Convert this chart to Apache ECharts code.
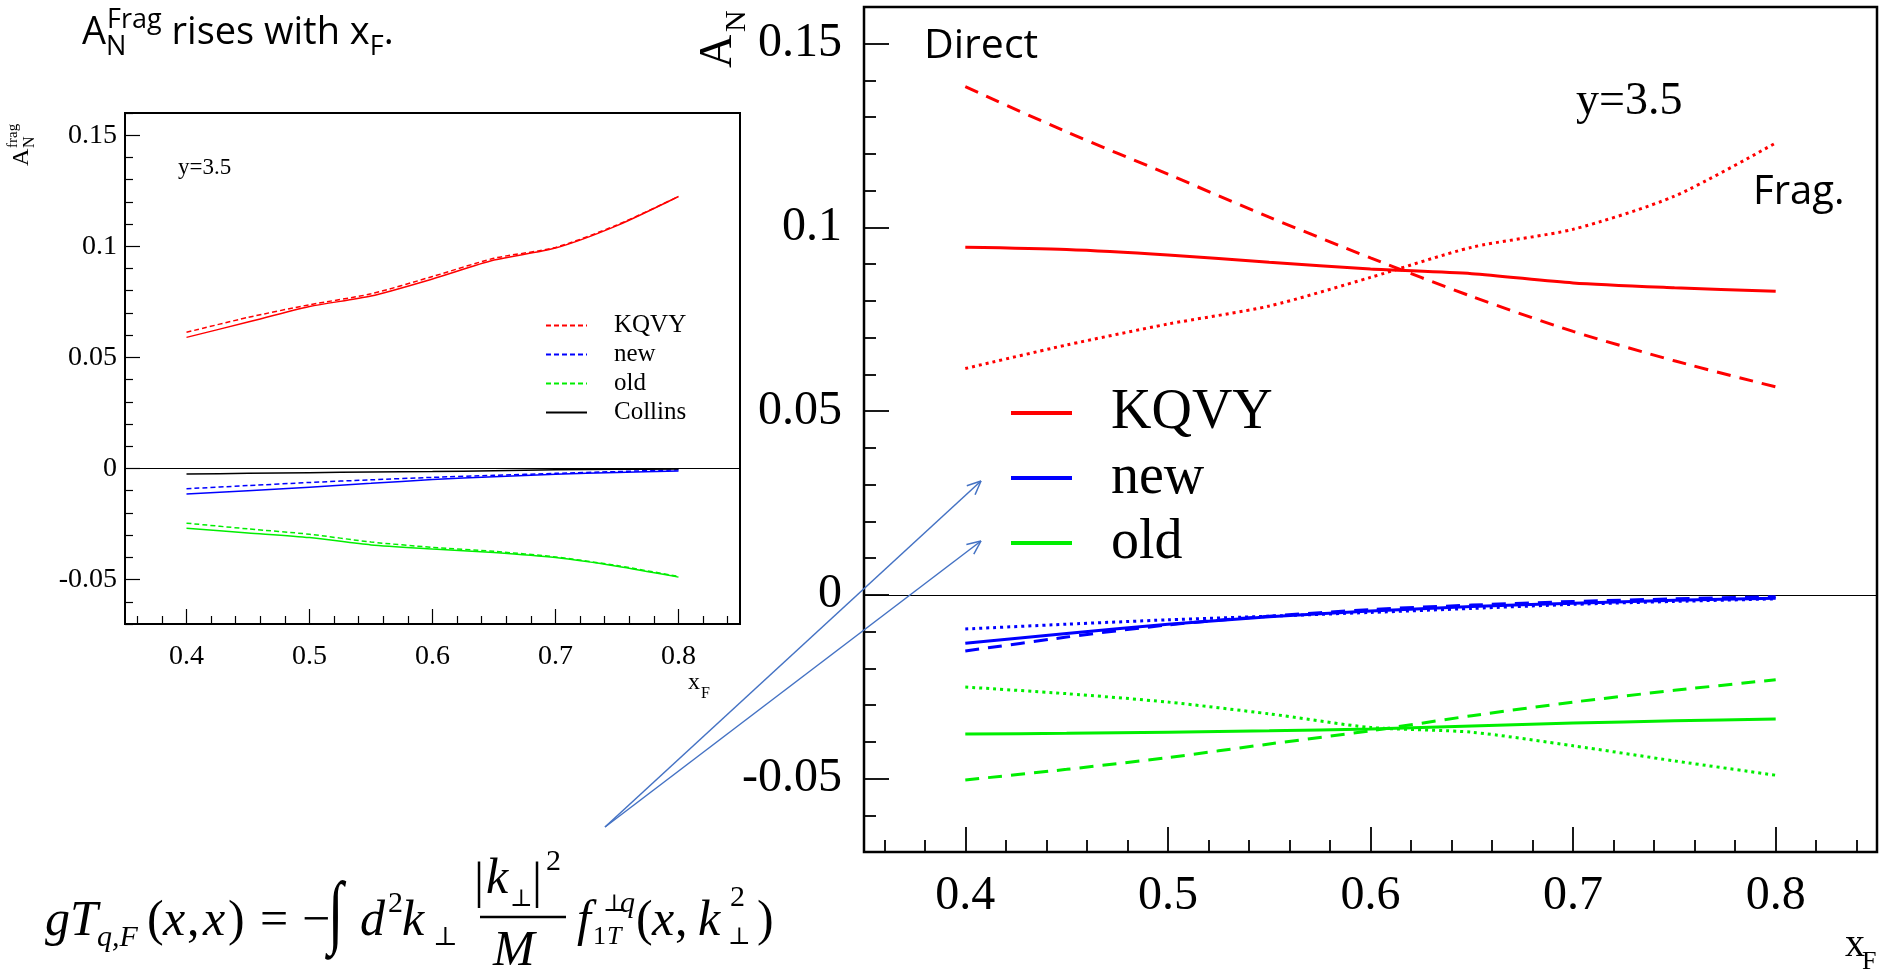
<!DOCTYPE html>
<html><head><meta charset="utf-8">
<script src="https://cdn.jsdelivr.net/npm/echarts@6/dist/echarts.min.js"></script>
<style>html,body{margin:0;padding:0;background:#fff}#c{width:1887px;height:977px}</style>
</head><body><div id="c"></div><script>
// ---------- data ----------
const xF = [0.40, 0.45, 0.50, 0.55, 0.60, 0.65, 0.70, 0.75, 0.80];
const xTicks = [0.4, 0.5, 0.6, 0.7, 0.8];
const xTickLabels = ['0.4', '0.5', '0.6', '0.7', '0.8'];
const yTicks = [-0.05, 0, 0.05, 0.1, 0.15];
const yTickLabels = ['-0.05', '0', '0.05', '0.1', '0.15'];
const xRange = [0.35, 0.85];
const yRange = [-0.07, 0.16];

// left panel (fragmentation contribution)
const fragKQVY_L = [0.0613, 0.0680, 0.0737, 0.0786, 0.0864, 0.0946, 0.0995, 0.1096, 0.1224];
const totKQVY_L  = [0.0590, 0.0659, 0.0729, 0.0776, 0.0853, 0.0938, 0.0992, 0.1093, 0.1224];
const fragNew_L  = [-0.0091, -0.0077, -0.0063, -0.0051, -0.0040, -0.0031, -0.0022, -0.0014, -0.0006];
const totNew_L   = [-0.0115, -0.0100, -0.0084, -0.0067, -0.0050, -0.0037, -0.0026, -0.0018, -0.0011];
const fragOld_L  = [-0.0246, -0.0272, -0.0296, -0.0331, -0.0355, -0.0373, -0.0398, -0.0437, -0.0486];
const totOld_L   = [-0.0269, -0.0290, -0.0311, -0.0344, -0.0362, -0.0378, -0.0401, -0.0440, -0.0489];
const collins_L  = [-0.0025, -0.0022, -0.0019, -0.0016, -0.0014, -0.0010, -0.0006, -0.0004, -0.0002];

// right panel (total solid, direct dashed, frag dotted)
const totKQVY_R  = [0.0946, 0.0940, 0.0925, 0.0905, 0.0887, 0.0874, 0.0849, 0.0836, 0.0826];
const dirKQVY_R  = [0.1383, 0.1260, 0.1145, 0.1028, 0.0917, 0.0812, 0.0717, 0.0637, 0.0566];
const fragKQVY_R = [0.0616, 0.0680, 0.0737, 0.0786, 0.0864, 0.0946, 0.0995, 0.1085, 0.1230];
const totNew_R   = [-0.0132, -0.0105, -0.0080, -0.0060, -0.0044, -0.0032, -0.0023, -0.0015, -0.0009];
const dirNew_R   = [-0.0153, -0.0115, -0.0082, -0.0058, -0.0040, -0.0028, -0.0018, -0.0011, -0.0005];
const fragNew_R  = [-0.0093, -0.0080, -0.0068, -0.0058, -0.0048, -0.0037, -0.0026, -0.0018, -0.0011];
const totOld_R   = [-0.0379, -0.0377, -0.0374, -0.0370, -0.0365, -0.0357, -0.0349, -0.0343, -0.0338];
const dirOld_R   = [-0.0504, -0.0475, -0.0443, -0.0406, -0.0370, -0.0329, -0.0292, -0.0260, -0.0231];
const fragOld_R  = [-0.0251, -0.0269, -0.0292, -0.0324, -0.0361, -0.0374, -0.0411, -0.0452, -0.0491];

const legendLabels = { 'KQVY frag': 'KQVY', 'new frag': 'new', 'old frag': 'old', 'Collins': 'Collins',
                       'KQVY': 'KQVY', 'new': 'new', 'old': 'old' };

// ---------- helpers ----------
const RED = '#ff0000', BLUE = '#0000ff', GREEN = '#00ee00', ARROW = '#4472c4';
const SERIF = 'Liberation Serif, DejaVu Serif, serif';
const SANS = 'Open Sans, Liberation Sans, sans-serif';

function minorOf(lo, hi, step, majors) {
  const out = [];
  const n = Math.round((hi - lo) / step);
  for (let i = 0; i <= n; i++) {
    const v = Math.round((lo + i * step) * 1000) / 1000;
    if (!majors.some(m => Math.abs(m - v) < 1e-9)) out.push(v);
  }
  return out;
}
const xMinor = minorOf(0.36, 0.84, 0.02, xTicks);
const yMinor = minorOf(-0.07, 0.16, 0.01, yTicks);

function lab(ticks, labels) {
  return v => { const i = ticks.findIndex(t => Math.abs(t - v) < 1e-9); return i >= 0 ? labels[i] : ''; };
}

function xAxesFor(grid, lenMaj, lenMin, fs, margin, lw) {
  return [
    { type: 'value', gridIndex: grid, min: xRange[0], max: xRange[1], position: 'bottom',
      axisLine: { show: false, onZero: false }, splitLine: { show: false },
      axisTick: { show: true, inside: true, length: lenMaj, customValues: xTicks, lineStyle: { color: '#000', width: lw } },
      axisLabel: { show: true, customValues: xTicks, formatter: lab(xTicks, xTickLabels), margin: margin,
                   fontFamily: SERIF, fontSize: fs, color: '#000' } },
    { type: 'value', gridIndex: grid, min: xRange[0], max: xRange[1], position: 'bottom',
      axisLine: { show: false, onZero: false }, splitLine: { show: false }, axisLabel: { show: false },
      axisTick: { show: true, inside: true, length: lenMin, customValues: xMinor, lineStyle: { color: '#000', width: lw } } }
  ];
}
function yAxesFor(grid, lenMaj, lenMin, fs, margin, lw) {
  return [
    { type: 'value', gridIndex: grid, min: yRange[0], max: yRange[1], position: 'left',
      axisLine: { show: false, onZero: false }, splitLine: { show: false },
      axisTick: { show: true, inside: true, length: lenMaj, customValues: yTicks, lineStyle: { color: '#000', width: lw } },
      axisLabel: { show: true, customValues: yTicks, formatter: lab(yTicks, yTickLabels), margin: margin,
                   fontFamily: SERIF, fontSize: fs, color: '#000' } },
    { type: 'value', gridIndex: grid, min: yRange[0], max: yRange[1], position: 'left',
      axisLine: { show: false, onZero: false }, splitLine: { show: false }, axisLabel: { show: false },
      axisTick: { show: true, inside: true, length: lenMin, customValues: yMinor, lineStyle: { color: '#000', width: lw } } }
  ];
}

function line(name, arr, xi, yi, color, width, type, extra) {
  const s = { name, type: 'line', xAxisIndex: xi, yAxisIndex: yi, data: xF.map((x, i) => [x, arr[i]]),
    symbol: 'none', showSymbol: false, smooth: 0.25, silent: true, z: 5,
    lineStyle: { color, width, type }, itemStyle: { color } };
  return Object.assign(s, extra || {});
}
const zeroLine = { silent: true, symbol: ['none', 'none'], label: { show: false },
  lineStyle: { color: '#000', width: 1.2, type: 'solid' }, data: [{ yAxis: 0 }], animation: false };

const dashL = [5, 3], dashR = [14, 9], dotR = [3, 4];

const series = [
  // left panel
  line('KQVY total L', totKQVY_L, 0, 0, RED, 1.5, 'solid', { markLine: zeroLine }),
  line('KQVY frag', fragKQVY_L, 0, 0, RED, 1.5, dashL),
  line('new total L', totNew_L, 0, 0, BLUE, 1.5, 'solid'),
  line('new frag', fragNew_L, 0, 0, BLUE, 1.5, dashL),
  line('old total L', totOld_L, 0, 0, GREEN, 1.5, 'solid'),
  line('old frag', fragOld_L, 0, 0, GREEN, 1.5, dashL),
  line('Collins', collins_L, 0, 0, '#000', 1.5, 'solid'),
  // right panel
  line('KQVY', totKQVY_R, 2, 2, RED, 3, 'solid', { markLine: zeroLine }),
  line('KQVY direct', dirKQVY_R, 2, 2, RED, 3, dashR),
  line('KQVY fragR', fragKQVY_R, 2, 2, RED, 3, dotR),
  line('new', totNew_R, 2, 2, BLUE, 3, 'solid'),
  line('new direct', dirNew_R, 2, 2, BLUE, 3, dashR),
  line('new fragR', fragNew_R, 2, 2, BLUE, 3, dotR),
  line('old', totOld_R, 2, 2, GREEN, 3, 'solid'),
  line('old direct', dirOld_R, 2, 2, GREEN, 3, dashR),
  line('old fragR', fragOld_R, 2, 2, GREEN, 3, dotR)
];

// ---------- text / annotation graphics ----------
const mctx = document.createElement('canvas').getContext('2d');
function mw(text, size, ff, it) { mctx.font = (it ? 'italic ' : '') + size + 'px ' + ff; return mctx.measureText(text).width; }

function T(text, x, y, size, o) {
  o = o || {};
  const el = { type: 'text', x, y, silent: true, z: 50,
    style: { text, fontSize: size, fontFamily: o.ff || SERIF, fontStyle: o.it ? 'italic' : 'normal',
             fill: o.c || '#000', align: o.al || 'left', verticalAlign: 'middle' } };
  if (o.sy) { el.scaleY = o.sy; }
  return el;
}
function arrow(x1, y1, x2, y2) {
  const a = Math.atan2(y2 - y1, x2 - x1), L = 15, w = 0.42;
  const st = { stroke: ARROW, lineWidth: 1.5 };
  return [
    { type: 'line', silent: true, z: 60, shape: { x1, y1, x2, y2 }, style: st },
    { type: 'line', silent: true, z: 60, shape: { x1: x2, y1: y2, x2: x2 - L * Math.cos(a - w), y2: y2 - L * Math.sin(a - w) }, style: st },
    { type: 'line', silent: true, z: 60, shape: { x1: x2, y1: y2, x2: x2 - L * Math.cos(a + w), y2: y2 - L * Math.sin(a + w) }, style: st }
  ];
}

// slide title laid out with measured widths
const titleEls = (function () {
  const S = 38, s = 27, y = 33;
  let x = 82; const out = [];
  out.push(T('A', x, y, S, { ff: SANS })); x += mw('A', S, 'Open Sans');
  out.push(T('N', x, y + 14, s, { ff: SANS }));
  out.push(T('Frag', x + 1, y - 13, s, { ff: SANS }));
  x += Math.max(mw('N', s, 'Open Sans'), mw('Frag', s, 'Open Sans') + 1) + mw(' ', S, 'Open Sans');
  out.push(T('rises with x', x, y, S, { ff: SANS })); x += mw('rises with x', S, 'Open Sans');
  out.push(T('F', x, y + 14, s, { ff: SANS })); x += mw('F', s, 'Open Sans');
  out.push(T('.', x, y, S, { ff: SANS }));
  return out;
})();

const F = 50, FS = 30;   // formula main / script sizes
const formulaEls = [
  T('gT', 45, 922, F, { it: true }),
  T('q,F', 97, 938, FS, { it: true }),
  T('(', 147, 922, F), T('x', 163, 922, F, { it: true }), T(',', 187, 922, F),
  T('x', 203, 922, F, { it: true }), T(')', 228, 922, F),
  T('=', 260, 922, F), T('\u2212', 302, 922, F),
  T('\u222B', 328, 917, 56, { sy: 1.45 }),
  T('d', 360, 922, F, { it: true }), T('2', 388, 904, FS),
  T('k', 402, 922, F, { it: true }), T('\u22A5', 433, 938, 26),
  T('|', 474, 884, F), T('k', 486, 880, F, { it: true }), T('\u22A5', 510, 900, 24),
  T('|', 532, 884, F), T('2', 546, 862, FS),
  { type: 'line', silent: true, z: 50, shape: { x1: 480, y1: 917, x2: 566, y2: 917 }, style: { stroke: '#000', lineWidth: 2.5 } },
  T('M', 493, 952, F, { it: true }),
  T('f', 577, 922, F, { it: true }),
  T('\u22A5', 603, 905, 24), T('q', 620, 904, FS, { it: true }),
  T('1', 593, 937, 26), T('T', 607, 937, 26, { it: true }),
  T('(', 636, 922, F), T('x', 652, 922, F, { it: true }), T(',', 675, 922, F),
  T('k', 698, 922, F, { it: true }), T('2', 730, 898, FS), T('\u22A5', 728, 938, 24),
  T(')', 757, 922, F)
];

const graphics = [].concat(titleEls, [
  // left panel annotations
  T('y=3.5', 178, 168, 23),
  { type: 'group', x: 22, y: 166, rotation: Math.PI / 2, z: 50, children: [
      T('A', 0, 0, 24), T('frag', 18, -9, 15), T('N', 18, 8, 16) ] },
  T('x', 688, 683, 24), T('F', 701, 694, 16),
  // right panel annotations
  T('Direct', 924, 46, 41, { ff: SANS }),
  T('Frag.', 1753, 193, 40, { ff: SANS }),
  T('y=3.5', 1576, 102, 46),
  { type: 'group', x: 719, y: 68, rotation: Math.PI / 2, z: 50, children: [
      T('A', 0, 0, 46), T('N', 36, 18, 30) ] },
  T('x', 1845, 945, 40), T('F', 1862, 962, 26)
], formulaEls, arrow(605, 827, 981, 481), arrow(605, 827, 981, 541));

const chart = echarts.init(document.getElementById('c'), null, { renderer: 'canvas' });
chart.setOption({
  animation: false,
  backgroundColor: '#fff',
  grid: [
    { left: 125, top: 113, width: 615, height: 511, show: true, borderColor: '#000', borderWidth: 2, backgroundColor: 'transparent', containLabel: false },
    { left: 864, top: 7, width: 1013, height: 845, show: true, borderColor: '#000', borderWidth: 2.5, backgroundColor: 'transparent', containLabel: false }
  ],
  xAxis: xAxesFor(0, 15, 8, 28, 19, 1.2).concat(xAxesFor(1, 25, 12, 48, 20, 1.8)),
  yAxis: yAxesFor(0, 15, 8, 28, 8, 1.2).concat(yAxesFor(1, 25, 12, 48, 22, 1.8)),
  legend: [
    { orient: 'vertical', left: 540, top: 308, itemWidth: 41, itemHeight: 10, itemGap: 4,
      data: ['KQVY frag', 'new frag', 'old frag', 'Collins'], selectedMode: false,
      formatter: n => legendLabels[n], itemStyle: { opacity: 0 },
      textStyle: { fontFamily: SERIF, fontSize: 25, lineHeight: 22, color: '#000', padding: [0, 0, 0, 22] } },
    { orient: 'vertical', left: 1004, top: 380, itemWidth: 61, itemHeight: 12, itemGap: 9,
      data: ['KQVY', 'new', 'old'], selectedMode: false,
      formatter: n => legendLabels[n], lineStyle: { width: 4 }, itemStyle: { opacity: 0 },
      textStyle: { fontFamily: SERIF, fontSize: 56, lineHeight: 54, color: '#000', padding: [0, 0, 0, 34] } }
  ],
  series: series,
  graphic: graphics
});
</script></body></html>
